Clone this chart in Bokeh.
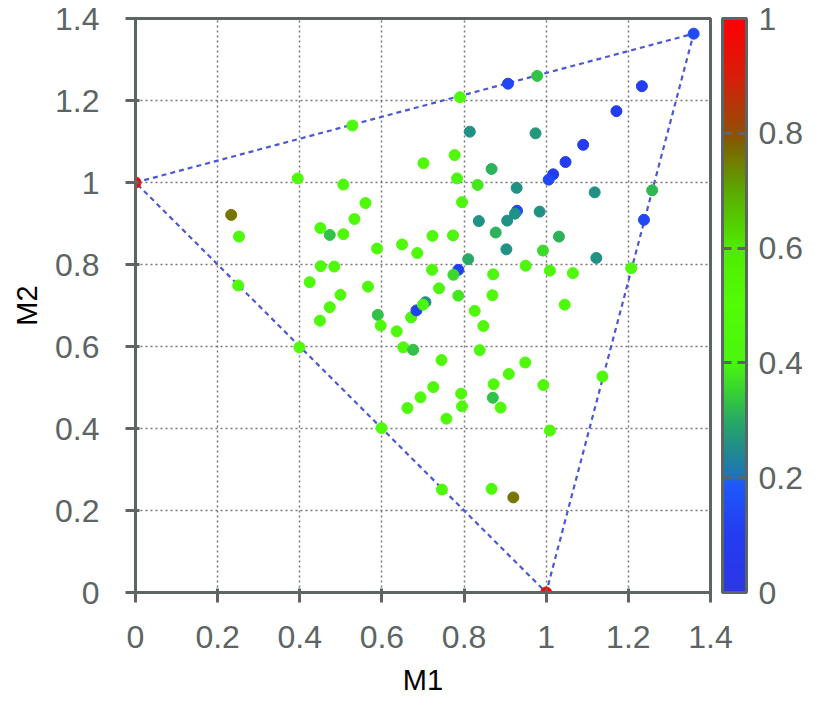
import numpy as np
from bokeh.plotting import figure
from bokeh.models import (ColumnDataSource, LinearColorMapper, ColorBar, FixedTicker,
                          CustomJSTickFormatter, Range1d)
from bokeh.embed import file_html
from bokeh.resources import INLINE

# ---------------- data ----------------
m1 = [0.0, 1.0, 1.359,
      0.528, 0.701, 0.395, 0.506, 0.560, 0.233, 0.533, 0.450, 0.473, 0.506,
      0.252, 0.588, 0.649, 0.686, 0.723, 0.722, 0.451, 0.484, 0.424, 0.250,
      0.566, 0.499, 0.473, 0.449, 0.590, 0.597, 0.636, 0.671, 0.684, 0.706,
      0.700, 0.399, 0.652, 0.676, 0.725, 0.694, 0.662, 0.599, 0.739, 0.786,
      0.869, 1.045, 0.826, 0.847, 0.838, 0.745, 0.949, 0.909, 1.137, 0.872,
      0.993, 0.793, 0.870, 0.795, 0.889, 0.757, 1.009, 0.746, 0.867, 0.920,
      0.907, 0.978, 1.233, 0.790, 1.171, 0.814, 0.974, 1.090, 0.777, 1.047,
      0.867, 1.017, 1.006, 0.783, 0.833, 0.928, 1.118, 1.258, 0.795, 0.929,
      0.924, 0.984, 1.238, 0.905, 0.836, 0.773, 0.877, 1.031, 0.903, 0.992,
      1.122, 0.810, 0.950, 1.207, 0.786, 0.774, 0.871, 1.009, 1.065]
m2 = [1.0, 0.0, 1.363,
      1.139, 1.047, 1.010, 0.995, 0.950, 0.921, 0.911, 0.889, 0.872, 0.874,
      0.868, 0.839, 0.849, 0.828, 0.870, 0.787, 0.796, 0.795, 0.757, 0.749,
      0.746, 0.726, 0.696, 0.663, 0.677, 0.651, 0.637, 0.671, 0.688, 0.708,
      0.702, 0.598, 0.598, 0.592, 0.501, 0.476, 0.450, 0.401, 0.742, 0.724,
      0.725, 0.702, 0.687, 0.650, 0.591, 0.567, 0.561, 0.533, 0.527, 0.508,
      0.506, 0.485, 0.475, 0.454, 0.451, 0.424, 0.395, 0.251, 0.253, 0.232,
      1.241, 1.260, 1.235, 1.208, 1.174, 1.124, 1.120, 1.092, 1.067, 1.050,
      1.033, 1.020, 1.007, 1.010, 0.994, 0.987, 0.976, 0.981, 0.952, 0.931,
      0.924, 0.929, 0.909, 0.907, 0.906, 0.871, 0.878, 0.868, 0.837, 0.834,
      0.816, 0.813, 0.797, 0.791, 0.787, 0.775, 0.776, 0.785, 0.779]
score = [1.0, 1.0, 0.15,
         0.45, 0.45, 0.45, 0.45, 0.45, 0.76, 0.45, 0.45, 0.33, 0.45,
         0.45, 0.45, 0.45, 0.45, 0.45, 0.45, 0.45, 0.45, 0.45, 0.45,
         0.45, 0.45, 0.45, 0.45, 0.33, 0.45, 0.45, 0.42, 0.12, 0.25,
         0.42, 0.45, 0.45, 0.33, 0.45, 0.45, 0.45, 0.45, 0.42, 0.38,
         0.45, 0.45, 0.45, 0.45, 0.45, 0.45, 0.45, 0.45, 0.45, 0.45,
         0.45, 0.45, 0.33, 0.45, 0.45, 0.45, 0.45, 0.45, 0.45, 0.76,
         0.13, 0.33, 0.10, 0.45, 0.10, 0.26, 0.27, 0.10, 0.45, 0.10,
         0.31, 0.10, 0.14, 0.42, 0.38, 0.26, 0.26, 0.32, 0.42, 0.13,
         0.26, 0.26, 0.14, 0.26, 0.26, 0.42, 0.31, 0.31, 0.26, 0.36,
         0.26, 0.30, 0.42, 0.45, 0.12, 0.36, 0.42, 0.42, 0.45]

# triangle (bounding simplex) vertices
tri_m1 = [0.0, 1.359, 1.0, 0.0]
tri_m2 = [1.0, 1.363, 0.0, 1.0]

ticks = [0, 0.2, 0.4, 0.6, 0.8, 1.0, 1.2, 1.4]
cbar_ticks = [0, 0.2, 0.4, 0.6, 0.8, 1.0]

# ---------------- colour map ----------------
stops = [
    (0.00, (45, 55, 230)),
    (0.10, (35, 60, 240)),
    (0.19, (30, 90, 250)),
    (0.20, (30, 115, 185)),
    (0.25, (32, 140, 140)),
    (0.30, (40, 170, 100)),
    (0.35, (55, 210, 50)),
    (0.40, (75, 245, 15)),
    (0.50, (82, 252, 5)),
    (0.60, (80, 235, 0)),
    (0.70, (90, 170, 0)),
    (0.78, (125, 100, 0)),
    (0.80, (145, 80, 5)),
    (0.90, (215, 30, 10)),
    (1.00, (255, 0, 0)),
]
sv = np.array([s[0] for s in stops])
sc = np.array([s[1] for s in stops], dtype=float)
palette = []
for t in np.linspace(0, 1, 256):
    rgb = [int(round(np.interp(t, sv, sc[:, k]))) for k in range(3)]
    palette.append("#%02x%02x%02x" % tuple(rgb))
mapper = LinearColorMapper(palette=palette, low=0, high=1)

GRAY = "#5c6464"
FONT = "Liberation Sans"
FW, FH = 575, 574

p = figure(frame_width=FW, frame_height=FH, output_backend="svg", toolbar_location=None,
           x_range=Range1d(0, 1.4), y_range=Range1d(0, 1.4),
           min_border_left=135, min_border_top=18, min_border_bottom=104, min_border_right=92)
p.background_fill_color = "white"
p.outline_line_color = GRAY
p.outline_line_width = 3

fmt = CustomJSTickFormatter(code="return Number(tick.toFixed(2)).toString();")
for ax in (p.xaxis[0], p.yaxis[0]):
    ax.ticker = FixedTicker(ticks=ticks)
    ax.formatter = fmt
    ax.axis_line_color = GRAY
    ax.axis_line_width = 3
    ax.major_tick_line_color = GRAY
    ax.major_tick_line_width = 3
    ax.major_tick_in = 4
    ax.major_tick_out = 10
    ax.minor_tick_line_color = None
    ax.major_label_text_font = FONT
    ax.major_label_text_font_size = "32px"
    ax.major_label_text_color = GRAY
    ax.axis_label_text_font = FONT
    ax.axis_label_text_font_size = "29px"
    ax.axis_label_text_font_style = "normal"
    ax.axis_label_text_color = "black"

p.xaxis.axis_label = "M1"
p.yaxis.axis_label = "M2"
p.xaxis.major_label_standoff = 23
p.xaxis.axis_label_standoff = 13
p.yaxis.major_label_standoff = 26
p.yaxis.axis_label_standoff = 9

for g in (p.xgrid[0], p.ygrid[0]):
    g.ticker = FixedTicker(ticks=ticks)
    g.grid_line_color = "#777777"
    g.grid_line_width = 1.5
    g.grid_line_dash = "2 3"

p.line(tri_m1, tri_m2, line_color="#4b58d4", line_width=2.2, line_dash="5 4")

src = ColumnDataSource(dict(m1=m1, m2=m2, z=score))
p.scatter("m1", "m2", source=src, size=11,
          fill_color={"field": "z", "transform": mapper},
          line_color={"field": "z", "transform": mapper})

cb = ColorBar(color_mapper=mapper, ticker=FixedTicker(ticks=cbar_ticks), formatter=fmt,
              width=24, height=FH, padding=0, margin=0, label_standoff=12,
              location=(FW + 12, 0),
              major_label_text_font=FONT, major_label_text_font_size="32px",
              major_label_text_color=GRAY,
              bar_line_color=GRAY, bar_line_width=3,
              major_tick_line_color=GRAY, major_tick_line_width=3,
              major_tick_in=24, major_tick_out=0, major_tick_line_dash="9 6",
              minor_tick_line_color=None,
              border_line_color=None, background_fill_color=None)
p.add_layout(cb, "center")

open("out.html", "w").write(file_html(p, INLINE))
